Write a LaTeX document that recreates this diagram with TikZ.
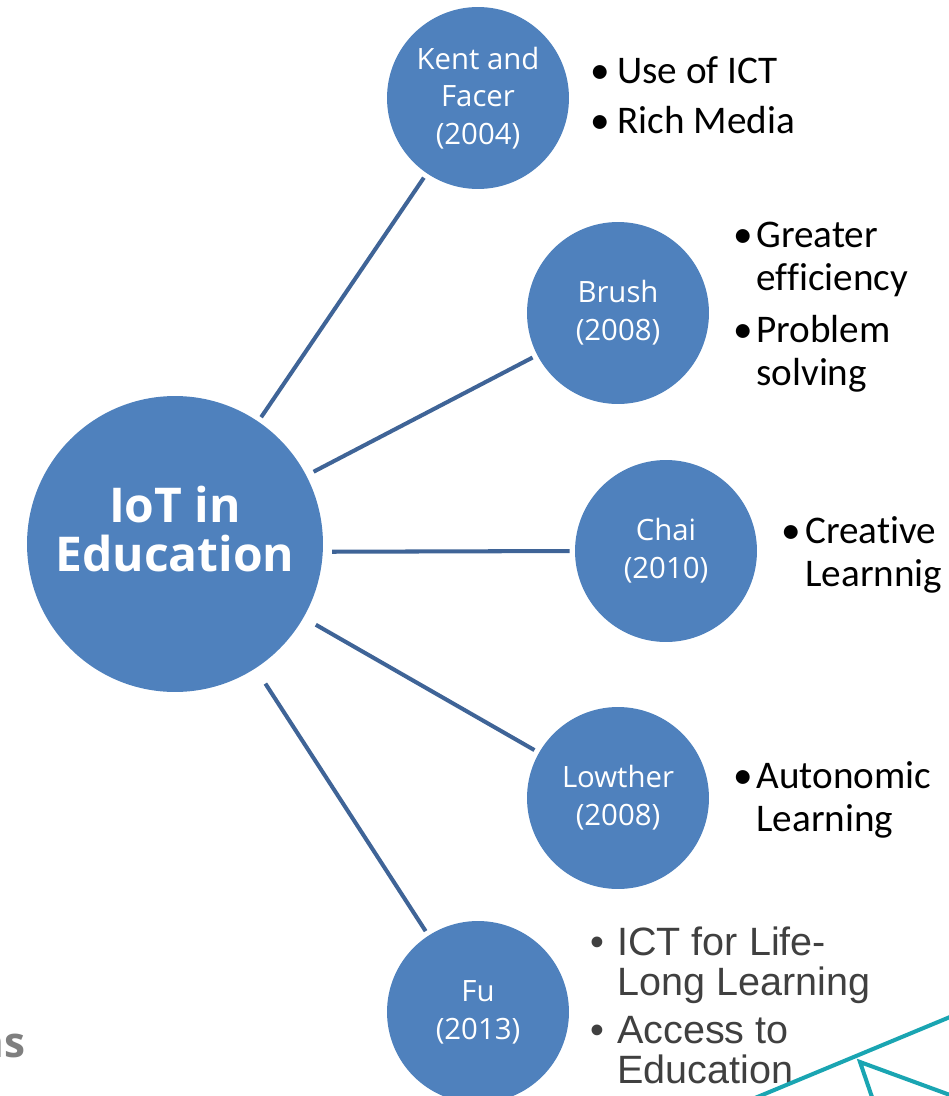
\documentclass[tikz,border=0pt]{standalone}
\usepackage{fontspec}
\setmainfont{Carlito}[Ligatures=NoCommon]
\newfontfamily\circfont{Open Sans}
\newfontfamily\grayfont{Liberation Sans}
\definecolor{circblue}{HTML}{4F81BD}
\definecolor{linkblue}{HTML}{3F6497}
\definecolor{tealline}{HTML}{1AA5B2}
\definecolor{pointgray}{HTML}{404040}
\definecolor{footgray}{HTML}{7F7F7F}
\newcommand{\bpoint}[2][0.5cm]{\makebox[#1][l]{\textbullet}\begin{tabular}[t]{@{}l@{}}#2\end{tabular}}

\begin{document}
\begin{tikzpicture}[x=0.02cm,y=-0.02cm,
		hub/.style={circle,fill=circblue,minimum size=5.92cm,inner sep=0pt},
		hubtext/.style={inner sep=0pt,text=white,align=center,font=\circfont\bfseries\fontsize{27.3}{28.3}\selectfont},
		author/.style={circle,fill=circblue,minimum size=3.64cm,inner sep=0pt,text=white,align=center,font=\circfont\fontsize{16.7}{21.5}\selectfont},
		points/.style={anchor=base west,inner sep=0pt,font=\fontsize{22.3}{25}\selectfont},
		graypoints/.style={anchor=base west,inner sep=0pt,text=pointgray,font=\grayfont\fontsize{22.5}{22.7}\selectfont},
		link/.style={draw=linkblue,line width=2.3pt,shorten >=0.1cm,shorten <=0.1cm}]
	\useasboundingbox (0,0) rectangle (948,1096);
	\node[hub] (hub) at (175,544) {};
	\node[hubtext] (hub-text) at (175,529) {IoT in\\Education};
	\node[author] (kent) at (478,98) {Kent and\\Facer\\(2004)};
	\node[author] (brush) at (618,313) {Brush\\(2008)};
	\node[author] (chai) at (666,551) {Chai\\(2010)};
	\node[author] (lowther) at (618,798) {Lowther\\(2008)};
	\node[author] (fu) at (478,1012) {Fu\\(2013)};
	\path[link]
		(hub) edge (kent)
		(hub) edge[shorten <=0.16cm] (brush)
		(hub.-3) edge[shorten <=0.18cm] (chai.west)
		(hub) edge[shorten <=0.28cm] (lowther)
		(hub) edge[shorten <=0.36cm] (fu);
	\node[points] (kent-1) at (590,83) {\bpoint[0.54cm]{Use of ICT}};
	\node[points] (kent-2) at (590,133) {\bpoint[0.54cm]{Rich Media}};
	\node[points] (brush-1) at (733,247) {\bpoint[0.46cm]{Greater\\efficiency}};
	\node[points] (brush-2) at (733,342) {\bpoint[0.46cm]{Problem\\solving}};
	\node[points] (chai-1) at (781,543) {\bpoint[0.48cm]{Creative\\Learnnig}};
	\node[points] (lowther-1) at (733,788) {\bpoint[0.46cm]{Autonomic\\Learning}};
	\node[graypoints] (fu-1) at (590,955) {\bpoint[0.54cm]{ICT for Life-\\Long Learning}};
	\node[graypoints] (fu-2) at (590,1043) {\bpoint[0.54cm]{Access to\\Education}};
	\node[anchor=base east,inner sep=0pt,text=footgray,font=\circfont\bfseries\fontsize{24}{24}\selectfont] (foot) at (26,1057) {ns};
	\draw[tealline,line width=2.3pt] (755,1098) -- (950,1017);
	\draw[tealline,line width=2.3pt,line join=miter] (873,1100) -- (860,1062) -- (950,1095);
\end{tikzpicture}
\end{document}
